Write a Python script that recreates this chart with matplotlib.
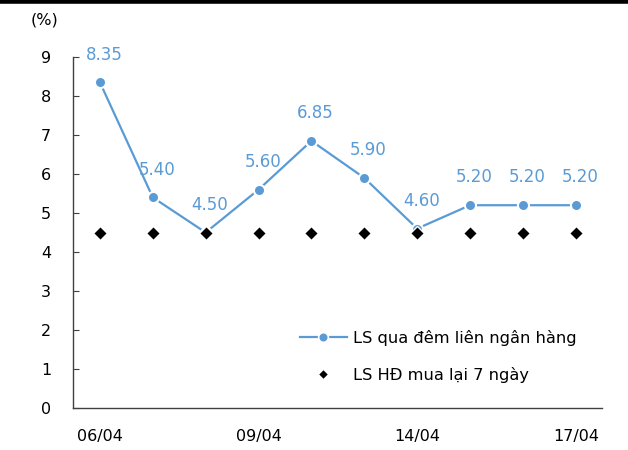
import numpy as np
import matplotlib
matplotlib.use('Agg')
import matplotlib.pyplot as plt
from matplotlib.lines import Line2D

# data
dates = ['06/04', '07/04', '08/04', '09/04', '10/04', '13/04', '14/04', '15/04', '16/04', '17/04']
lien_ngan_hang = [8.35, 5.40, 4.50, 5.60, 6.85, 5.90, 4.60, 5.20, 5.20, 5.20]
mua_lai_7_ngay = [4.5, 4.5, 4.5, 4.5, 4.5, 4.5, 4.5, 4.5, 4.5, 4.5]
tick_idx = [0, 3, 6, 9]

blue = '#5B9BD5'
plt.rcParams['font.family'] = ['DejaVu Sans']

fig = plt.figure(figsize=(6.28, 4.5), dpi=100)
ax = fig.add_axes([0.117, 0.0933, 0.842, 0.78])

x = np.arange(len(dates))
ax.plot(x, lien_ngan_hang, color=blue, lw=1.6, marker='o', ms=8,
        markerfacecolor=blue, markeredgecolor='white', markeredgewidth=1.5,
        label='LS qua đêm liên ngân hàng', zorder=3)
ax.plot(x, mua_lai_7_ngay, ls='none', marker='D', ms=7, color='black',
        markeredgecolor='white', markeredgewidth=1.0,
        label='LS HĐ mua lại 7 ngày', zorder=4)

for xi, v in zip(x, lien_ngan_hang):
    ax.annotate(f'{v:.2f}', (xi, v), xytext=(3, 20), textcoords='offset points',
                ha='center', va='center', color=blue, fontsize=12)

ax.set_xlim(-0.5, 9.5)
ax.set_ylim(0, 9)
ax.set_yticks(range(0, 10))
ax.set_xticks(tick_idx)
ax.set_xticklabels([dates[i] for i in tick_idx])
ax.tick_params(axis='y', direction='in', length=4, pad=16, labelsize=11.5, color='#404040')
ax.tick_params(axis='x', length=0, pad=15, labelsize=11.5)
for s in ['top', 'right']:
    ax.spines[s].set_visible(False)
for s in ['left', 'bottom']:
    ax.spines[s].set_color('#404040')
    ax.spines[s].set_linewidth(1.0)

fig.text(0.049, 0.955, '(%)', fontsize=11.5, va='center', ha='left')

handles = [Line2D([0], [0], color=blue, lw=1.6, marker='o', ms=7,
                  markerfacecolor=blue, markeredgecolor='white', markeredgewidth=1.2),
           Line2D([0], [0], ls='none', marker='D', ms=5, color='black',
                  markeredgecolor='white', markeredgewidth=0.8)]
ax.legend(handles, ['LS qua đêm liên ngân hàng', 'LS HĐ mua lại 7 ngày'],
          loc='lower left', bbox_to_anchor=(0.4, 0.03), frameon=False,
          fontsize=11.7, handlelength=2.9, labelspacing=1.3, handletextpad=0.4)

# black rule at top of figure
fig.add_artist(Line2D([0, 1], [0.997, 0.997], color='black', lw=4, transform=fig.transFigure))

fig.savefig('out.png', dpi=100)
